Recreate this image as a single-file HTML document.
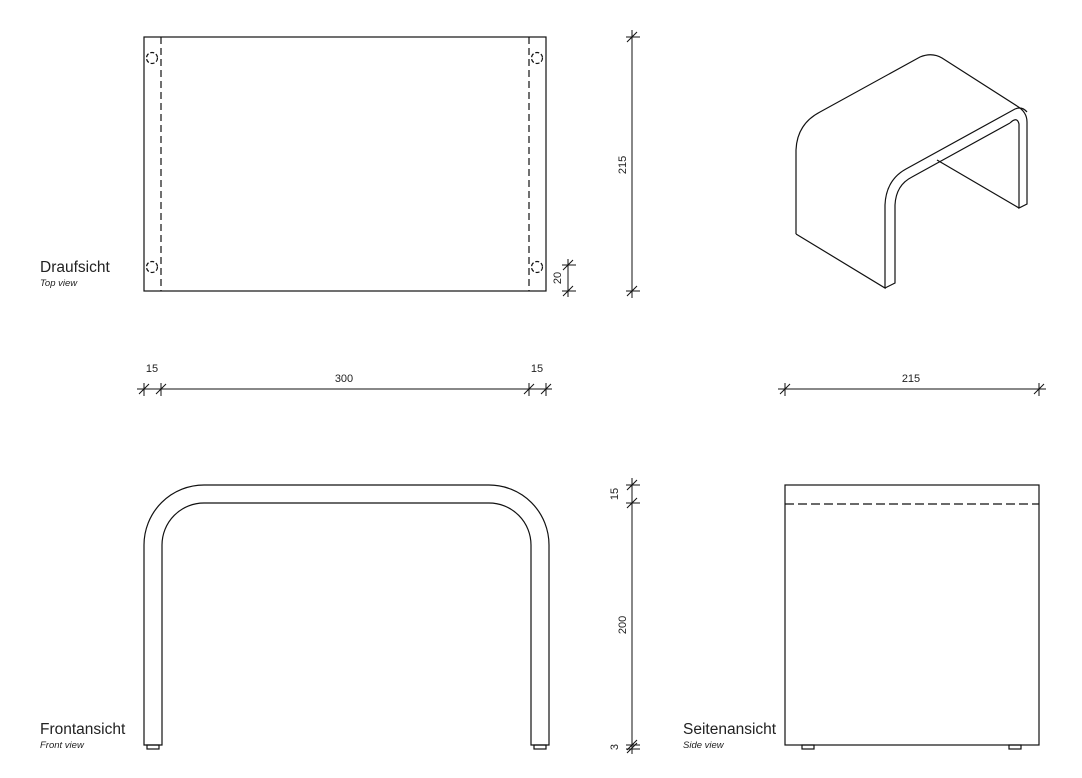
<!DOCTYPE html>
<html><head><meta charset="utf-8"><style>
html,body{margin:0;padding:0;background:#fff;}
svg{display:block;}
text{font-family:"Liberation Sans",sans-serif;fill:#222;}
</style></head><body>
<svg width="1082" height="778" viewBox="0 0 1082 778" xmlns="http://www.w3.org/2000/svg">
<g fill="none" stroke="#111" stroke-width="1.2">
<rect x="144" y="37" width="402" height="254"/>
<line x1="161" y1="37" x2="161" y2="291" stroke-dasharray="7,4"/>
<line x1="529" y1="37" x2="529" y2="291" stroke-dasharray="7,4"/>
<circle cx="152" cy="58" r="5.5" stroke-dasharray="4,2"/>
<circle cx="537" cy="58" r="5.5" stroke-dasharray="4,2"/>
<circle cx="152" cy="267" r="5.5" stroke-dasharray="4,2"/>
<circle cx="537" cy="267" r="5.5" stroke-dasharray="4,2"/>
<line x1="632" y1="30" x2="632" y2="298" stroke-width="1"/>
<line x1="627" y1="42" x2="637" y2="32" stroke-width="1"/>
<line x1="627" y1="296" x2="637" y2="286" stroke-width="1"/>
<line x1="626" y1="37" x2="640" y2="37" stroke-width="1"/>
<line x1="626" y1="291" x2="640" y2="291" stroke-width="1"/>
<line x1="568" y1="259" x2="568" y2="297" stroke-width="1"/>
<line x1="562" y1="265" x2="576" y2="265" stroke-width="1"/>
<line x1="562" y1="291" x2="576" y2="291" stroke-width="1"/>
<line x1="563" y1="270" x2="573" y2="260" stroke-width="1"/>
<line x1="563" y1="296" x2="573" y2="286" stroke-width="1"/>
<line x1="137" y1="389" x2="552" y2="389" stroke-width="1"/>
<g stroke-width="1">
<line x1="144" y1="383" x2="144" y2="396"/><line x1="139" y1="394" x2="149" y2="384"/>
<line x1="161" y1="383" x2="161" y2="396"/><line x1="156" y1="394" x2="166" y2="384"/>
<line x1="529" y1="383" x2="529" y2="396"/><line x1="524" y1="394" x2="534" y2="384"/>
<line x1="546" y1="383" x2="546" y2="396"/><line x1="541" y1="394" x2="551" y2="384"/>
</g>
<line x1="778" y1="389" x2="1046" y2="389" stroke-width="1"/>
<g stroke-width="1">
<line x1="785" y1="383" x2="785" y2="396"/><line x1="780" y1="394" x2="790" y2="384"/>
<line x1="1039" y1="383" x2="1039" y2="396"/><line x1="1034" y1="394" x2="1044" y2="384"/>
</g>
<path d="M144 745 V545 A60 60 0 0 1 204 485 H489 A60 60 0 0 1 549 545 V745 H531 V545 A42 42 0 0 0 489 503 H204 A42 42 0 0 0 162 545 V745 Z"/>
<rect x="147" y="745" width="12" height="4"/>
<rect x="534" y="745" width="12" height="4"/>
<line x1="632" y1="478" x2="632" y2="754" stroke-width="1"/>
<g stroke-width="1">
<line x1="626" y1="485" x2="640" y2="485"/><line x1="627" y1="490" x2="637" y2="480"/>
<line x1="626" y1="503" x2="640" y2="503"/><line x1="627" y1="508" x2="637" y2="498"/>
<line x1="626" y1="745" x2="640" y2="745"/><line x1="627" y1="750" x2="637" y2="740"/>
<line x1="626" y1="749" x2="640" y2="749"/><line x1="627" y1="753" x2="637" y2="743"/>
</g>
<rect x="785" y="485" width="254" height="260"/>
<line x1="785" y1="504" x2="1039" y2="504" stroke-dasharray="9,4"/>
<rect x="802" y="745" width="12" height="4"/>
<rect x="1009" y="745" width="12" height="4"/>
<path d="M796 234 V150 Q797 124 820 112 L920 57 Q932 52 942 58 L1017 106 Q1027 112 1027 122 V204 L1019 208 V124 Q1017 116 1010 123"/>
<path d="M796 234 L885 288 V205 Q886 180 906 169 L1015 109 Q1022 106 1027 112"/>
<path d="M885 288 L895 283 V205 Q896 185 912 177 L1010 123"/>
<line x1="937" y1="160" x2="1019" y2="208"/>
</g>
<g font-size="11">
<text x="152" y="372" text-anchor="middle">15</text>
<text x="344" y="382" text-anchor="middle">300</text>
<text x="537" y="372" text-anchor="middle">15</text>
<text x="911" y="382" text-anchor="middle">215</text>
<text transform="translate(626,165) rotate(-90)" text-anchor="middle">215</text>
<text transform="translate(561,278) rotate(-90)" text-anchor="middle">20</text>
<text transform="translate(618,494) rotate(-90)" text-anchor="middle">15</text>
<text transform="translate(626,625) rotate(-90)" text-anchor="middle">200</text>
<text transform="translate(618,747) rotate(-90)" text-anchor="middle">3</text>
</g>
<text x="40" y="272" font-size="15.5">Draufsicht</text>
<text x="40" y="286" font-size="9.5" font-style="italic" fill="#666">Top view</text>
<text x="40" y="734" font-size="15.5">Frontansicht</text>
<text x="40" y="748" font-size="9.5" font-style="italic" fill="#666">Front view</text>
<text x="683" y="734" font-size="15.5">Seitenansicht</text>
<text x="683" y="748" font-size="9.5" font-style="italic" fill="#666">Side view</text>
</svg>
</body></html>
